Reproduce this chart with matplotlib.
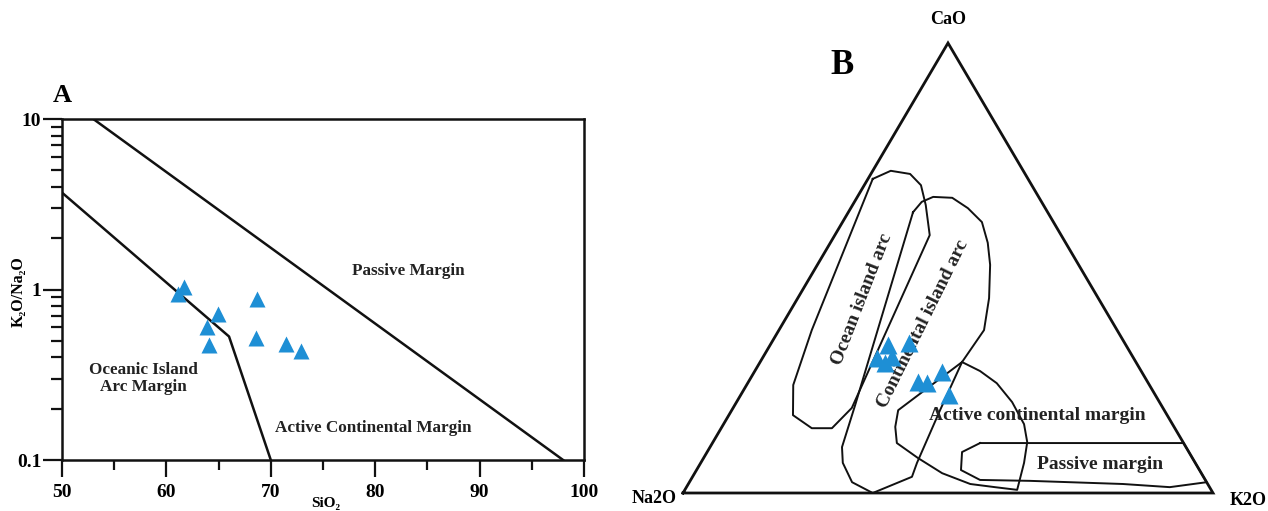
import matplotlib
matplotlib.use("Agg")
import matplotlib.pyplot as plt
from matplotlib.ticker import MultipleLocator, LogLocator, NullFormatter

plt.rcParams['font.family'] = ['Liberation Serif', 'DejaVu Serif']
plt.rcParams['font.weight'] = 'bold'

W, H = 1268, 511
BLUE = '#1E8FD5'
INK = '#111111'

# ---------------- Panel A data (SiO2 vs K2O/Na2O) ----------------
sio2 = [61.7, 61.1, 64.9, 63.9, 64.1, 68.7, 68.6, 71.5, 72.9]
k2o_na2o = [1.03, 0.94, 0.72, 0.60, 0.475, 0.88, 0.52, 0.48, 0.435]

upper_x = [53, 98]
upper_y = [10, 0.1]
lower_x = [50, 66, 70]
lower_y = [3.7, 0.53, 0.1]

x_ticks = [50, 60, 70, 80, 90, 100]
y_ticks = [0.1, 1, 10]
y_tick_labels = ['0.1', '1', '10']

# ---------------- Panel B data (CaO - Na2O - K2O ternary, %) ----------------
s_cao = [32.9, 33.3, 29.9, 30.3, 28.8, 24.7, 24.4, 27.0, 21.8]
s_na2o = [44.8, 40.8, 48.5, 45.5, 47.5, 43.3, 41.8, 37.7, 39.0]
s_k2o = [22.3, 25.9, 21.6, 24.2, 23.7, 32.0, 33.8, 35.3, 39.2]

# triangle corners: Na2O, K2O, CaO
tri_cao = [0, 0, 100, 0]
tri_na2o = [100, 0, 0, 100]
tri_k2o = [0, 100, 0, 0]

oia_cao = [69.8, 71.6, 70.9, 68.4, 64.0, 57.3, 18.9, 14.4, 14.4, 17.3, 24.0, 36.2, 69.8]
oia_na2o = [29.3, 25.0, 21.7, 20.9, 22.2, 24.8, 58.7, 64.7, 68.5, 70.6, 67.2, 57.6, 29.3]
oia_k2o = [0.9, 3.4, 7.4, 10.7, 13.8, 17.9, 22.4, 20.9, 17.1, 12.1, 8.8, 6.2, 0.9]

cia_cao = [62.4, 64.7, 65.8, 65.6, 63.3, 60.2, 55.6, 50.7, 43.3, 36.2, 29.1, 18.4, 6.7, 3.6, 0.0, 2.4, 6.7, 10.2, 19.6, 62.4]
cia_na2o = [25.4, 22.6, 19.9, 16.4, 14.6, 13.5, 14.7, 16.7, 20.6, 25.1, 32.8, 42.3, 52.5, 55.0, 64.2, 66.9, 66.5, 64.9, 57.7, 25.4]
cia_k2o = [12.2, 12.7, 14.3, 18.0, 22.1, 26.3, 29.7, 32.6, 36.1, 38.7, 38.1, 39.3, 40.8, 41.4, 35.8, 30.7, 26.8, 24.9, 22.7, 12.2]

acm_cao = [29.1, 27.1, 24.4, 20.2, 15.3, 11.3, 6.7, 0.7, 1.3, 2.0, 4.4, 7.8, 11.1, 14.7, 18.4, 29.1]
acm_na2o = [32.8, 30.4, 28.6, 27.8, 28.0, 29.4, 32.3, 36.6, 40.5, 44.8, 48.9, 51.8, 54.1, 52.6, 50.2, 32.8]
acm_k2o = [38.1, 42.5, 47.0, 52.0, 56.7, 59.3, 61.0, 62.7, 58.2, 53.2, 46.7, 40.4, 34.8, 32.7, 31.4, 38.1]

pm_cao = [11.1, 11.1, 2.4, 1.3, 2.0, 2.7, 2.9, 5.1, 9.1, 11.1]
pm_na2o = [38.4, 0.0, 0.0, 7.5, 16.0, 33.2, 42.5, 45.0, 42.8, 38.4]
pm_k2o = [50.5, 88.9, 97.6, 91.2, 82.0, 64.1, 54.6, 49.9, 48.1, 50.5]


def tern(cao, na2o, k2o):
    xs, ys = [], []
    for c, n, k in zip(cao, na2o, k2o):
        t = c + n + k
        xs.append(k / t + 0.5 * c / t)
        ys.append(c / t)
    return xs, ys


fig = plt.figure(figsize=(W / 100, H / 100), dpi=100)

# ================= Panel A =================
axA = fig.add_axes([62 / W, (H - 460) / H, 522 / W, 341 / H])
axA.set_yscale('log')
axA.set_xlim(50, 100)
axA.set_ylim(0.1, 10)
axA.plot(upper_x, upper_y, color=INK, lw=1.8)
axA.plot(lower_x, lower_y, color=INK, lw=1.8)
axA.plot(sio2, k2o_na2o, linestyle='none', marker='^', ms=12,
         color=BLUE, mec='none', clip_on=False, zorder=5)

axA.xaxis.set_minor_locator(MultipleLocator(5))
axA.set_xticks(x_ticks)
axA.yaxis.set_minor_locator(LogLocator(base=10, subs=range(2, 10)))
axA.yaxis.set_minor_formatter(NullFormatter())
axA.set_yticks(y_ticks)
axA.set_yticklabels(y_tick_labels)
for lab in axA.get_xticklabels() + axA.get_yticklabels():
    lab.set_fontweight('bold')
axA.tick_params(axis='x', which='major', direction='out', length=12, width=1.6,
                labelsize=14, pad=5, color=INK)
axA.tick_params(axis='x', which='minor', direction='out', length=7, width=1.6, color=INK)
axA.tick_params(axis='y', which='major', direction='out', length=14, width=1.6,
                labelsize=14, pad=1, color=INK)
axA.tick_params(axis='y', which='minor', direction='out', length=8, width=1.6, color=INK)
for sp in axA.spines.values():
    sp.set_linewidth(1.8)
    sp.set_color(INK)

axA.text(83.2, 1.29, 'Passive Margin', fontsize=12.3, ha='center', va='center', color='#222')
axA.text(57.8, 0.30, 'Oceanic Island\nArc Margin', fontsize=12.3, ha='center', va='center',
         linespacing=1.05, color='#222')
axA.text(79.85, 0.155, 'Active Continental Margin', fontsize=12.3, ha='center', va='center',
         color='#222')

fig.text(326 / W, 1 - 503 / H, 'SiO\u2082', fontsize=11, ha='center', va='center')
fig.text(19 / W, 1 - 292 / H, 'K\u2082O/Na\u2082O', fontsize=11.5, ha='center', va='center',
         rotation=90)
fig.text(62 / W, 1 - 96 / H, 'A', fontsize=19, ha='center', va='center')

# ================= Panel B =================
axB = fig.add_axes([683 / W, (H - 493) / H, 530 / W, 450 / H])
axB.set_xlim(0, 1)
axB.set_ylim(0, 1)
axB.axis('off')

tx, ty = tern(tri_cao, tri_na2o, tri_k2o)
axB.plot(tx, ty, color=INK, lw=2.0, clip_on=False, solid_joinstyle='miter')
for c, n, k in [(oia_cao, oia_na2o, oia_k2o), (cia_cao, cia_na2o, cia_k2o),
                (acm_cao, acm_na2o, acm_k2o), (pm_cao, pm_na2o, pm_k2o)]:
    px, py = tern(c, n, k)
    axB.plot(px, py, color=INK, lw=1.4, clip_on=False)

sx, sy = tern(s_cao, s_na2o, s_k2o)
axB.plot(sx, sy, linestyle='none', marker='^', ms=12.5, color=BLUE, mec='none',
         clip_on=False, zorder=5)

axB.annotate('CaO', xy=(tx[2], ty[2]), xytext=(0, 24), textcoords='offset pixels',
             ha='center', va='center', fontsize=13)
axB.annotate('Na2O', xy=(tx[0], ty[0]), xytext=(-6, -5), textcoords='offset pixels',
             ha='right', va='center', fontsize=13)
axB.annotate('K2O', xy=(tx[1], ty[1]), xytext=(17, -7), textcoords='offset pixels',
             ha='left', va='center', fontsize=13)

axB.text(0.338, 0.430, 'Ocean island arc', fontsize=14, rotation=68.8,
         rotation_mode='anchor', ha='center', va='center', color='#222')
axB.text(0.452, 0.376, 'Continental island arc', fontsize=14, rotation=63.7,
         rotation_mode='anchor', ha='center', va='center', color='#222')
axB.text(0.668, 0.173, 'Active continental margin', fontsize=14, ha='center',
         va='center', color='#222')
axB.text(0.787, 0.064, 'Passive margin', fontsize=14, ha='center', va='center', color='#222')

fig.text(842 / W, 1 - 65 / H, 'B', fontsize=25, ha='center', va='center')

fig.savefig('out.png', dpi=100)
